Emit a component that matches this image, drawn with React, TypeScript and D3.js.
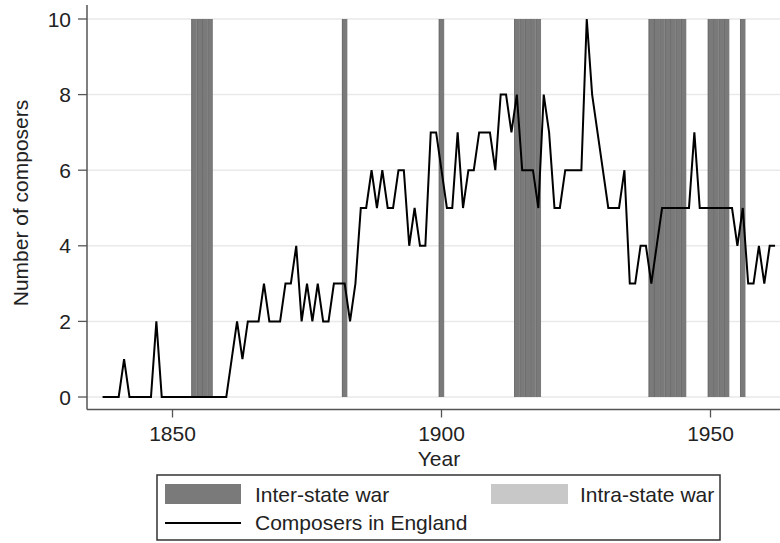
import React, { useEffect, useRef } from 'react';
import * as d3 from 'd3';

// composers active per year, 1837-1962
const startYear = 1837;
const composers = [
  0, 0, 0, 0, 1, 0, 0, 0, 0, 0, 2, 0, 0, 0, 0, 0, 0, 0, 0, 0, 0, 0, 0, 0,
  1, 2, 1, 2, 2, 2, 3, 2, 2, 2, 3, 3, 4, 2, 3, 2, 3, 2, 2, 3, 3, 3, 2, 3,
  5, 5, 6, 5, 6, 5, 5, 6, 6, 4, 5, 4, 4, 7, 7, 6, 5, 5, 7, 5, 6, 6, 7, 7,
  7, 6, 8, 8, 7, 8, 6, 6, 6, 5, 8, 7, 5, 5, 6, 6, 6, 6, 10, 8, 7, 6, 5, 5,
  5, 6, 3, 3, 4, 4, 3, 4, 5, 5, 5, 5, 5, 5, 7, 5, 5, 5, 5, 5, 5, 5, 4, 5,
  3, 3, 4, 3, 4, 4,
];
const interStateWarYears = [
  1854, 1855, 1856, 1857, 1882, 1900, 1914, 1915, 1916, 1917, 1918,
  1939, 1940, 1941, 1942, 1943, 1944, 1945, 1950, 1951, 1952, 1953, 1956,
];
const intraStateWarYears: number[] = [];
const yTicks = [0, 2, 4, 6, 8, 10];
const xTicks = [1850, 1900, 1950];

const W = 780;
const H = 543;
const FONT = "'Liberation Sans', Arial, Helvetica, sans-serif";
const FS = 21;

const App = () => {
  const ref = useRef<SVGSVGElement>(null);

  useEffect(() => {
    const svg = d3.select(ref.current);
    svg.selectAll('*').remove();

    const left = 87, right = 780, axisY = 409.5;
    const x = d3.scaleLinear().domain([1850, 1950]).range([172.5, 710.5]);
    const y = d3.scaleLinear().domain([0, 10]).range([397, 19]);

    svg.append('rect').attr('width', W).attr('height', H).attr('fill', '#fff');

    // grid
    svg.selectAll('line.grid').data(yTicks).enter().append('line')
      .attr('x1', left).attr('x2', right)
      .attr('y1', d => y(d)).attr('y2', d => y(d))
      .attr('stroke', '#e9e9e9').attr('stroke-width', 1.5);

    // war bars, one per year
    const drawBars = (years: number[], fill: string, edge: string) => {
      const g = svg.append('g');
      g.selectAll('rect').data(years).enter().append('rect')
        .attr('x', d => x(d - 0.5))
        .attr('width', d => x(d + 0.5) - x(d - 0.5))
        .attr('y', y(10))
        .attr('height', y(0) - y(10))
        .attr('fill', fill);
      g.selectAll('line').data(years).enter().append('line')
        .attr('x1', d => x(d - 0.5) + 0.4).attr('x2', d => x(d - 0.5) + 0.4)
        .attr('y1', y(10)).attr('y2', y(0))
        .attr('stroke', edge).attr('stroke-width', 0.8);
    };
    drawBars(interStateWarYears, '#7a7a7a', '#686868');
    drawBars(intraStateWarYears, '#c8c8c8', '#bcbcbc');

    // composers line
    const line = d3.line<number>()
      .x((_, i) => x(startYear + i))
      .y(d => y(d));
    svg.append('path')
      .datum(composers)
      .attr('d', line)
      .attr('fill', 'none')
      .attr('stroke', '#000')
      .attr('stroke-width', 2)
      .attr('stroke-linejoin', 'miter');

    // axes
    const axisColor = '#555';
    svg.append('line').attr('x1', left).attr('x2', left).attr('y1', 5).attr('y2', axisY)
      .attr('stroke', axisColor).attr('stroke-width', 1.5);
    svg.append('line').attr('x1', left).attr('x2', right).attr('y1', axisY).attr('y2', axisY)
      .attr('stroke', axisColor).attr('stroke-width', 1.5);

    svg.selectAll('line.ytick').data(yTicks).enter().append('line')
      .attr('x1', 78).attr('x2', left)
      .attr('y1', d => y(d)).attr('y2', d => y(d))
      .attr('stroke', axisColor).attr('stroke-width', 1.3);
    svg.selectAll('text.ytick').data(yTicks).enter().append('text')
      .attr('x', 71).attr('y', d => y(d)).attr('dy', '0.36em')
      .attr('text-anchor', 'end')
      .attr('font-family', FONT).attr('font-size', FS).attr('fill', '#222')
      .text(d => d);

    svg.selectAll('line.xtick').data(xTicks).enter().append('line')
      .attr('x1', d => x(d)).attr('x2', d => x(d))
      .attr('y1', axisY).attr('y2', 417.5)
      .attr('stroke', axisColor).attr('stroke-width', 1.3);
    svg.selectAll('text.xtick').data(xTicks).enter().append('text')
      .attr('x', d => x(d)).attr('y', 441)
      .attr('text-anchor', 'middle')
      .attr('font-family', FONT).attr('font-size', FS).attr('fill', '#222')
      .text(d => d);

    svg.append('text')
      .attr('x', 439).attr('y', 466)
      .attr('text-anchor', 'middle')
      .attr('font-family', FONT).attr('font-size', FS).attr('fill', '#222')
      .text('Year');

    svg.append('text')
      .attr('transform', 'translate(20,203) rotate(-90)')
      .attr('dy', '0.36em')
      .attr('text-anchor', 'middle')
      .attr('font-family', FONT).attr('font-size', FS).attr('fill', '#222')
      .text('Number of composers');

    // legend
    const lg = svg.append('g');
    lg.append('rect').attr('x', 157).attr('y', 475).attr('width', 563).attr('height', 65)
      .attr('fill', '#fff').attr('stroke', '#333').attr('stroke-width', 1.5);
    lg.append('rect').attr('x', 165).attr('y', 484).attr('width', 76).attr('height', 20).attr('fill', '#7a7a7a');
    lg.append('rect').attr('x', 491).attr('y', 484).attr('width', 77).attr('height', 20).attr('fill', '#c8c8c8');
    lg.append('line').attr('x1', 165).attr('x2', 241).attr('y1', 523).attr('y2', 523)
      .attr('stroke', '#000').attr('stroke-width', 2);
    const items = [
      { label: 'Inter-state war', tx: 255, ty: 502 },
      { label: 'Intra-state war', tx: 580, ty: 502 },
      { label: 'Composers in England', tx: 255, ty: 530 },
    ];
    lg.selectAll('text').data(items).enter().append('text')
      .attr('x', d => d.tx).attr('y', d => d.ty)
      .attr('font-family', FONT).attr('font-size', FS).attr('fill', '#222')
      .text(d => d.label);
  }, []);

  return (
    <div style={{ position: 'absolute', left: 0, top: 0 }}>
      <svg ref={ref} width={W} height={H} style={{ display: 'block' }} />
    </div>
  );
};

export default App;
